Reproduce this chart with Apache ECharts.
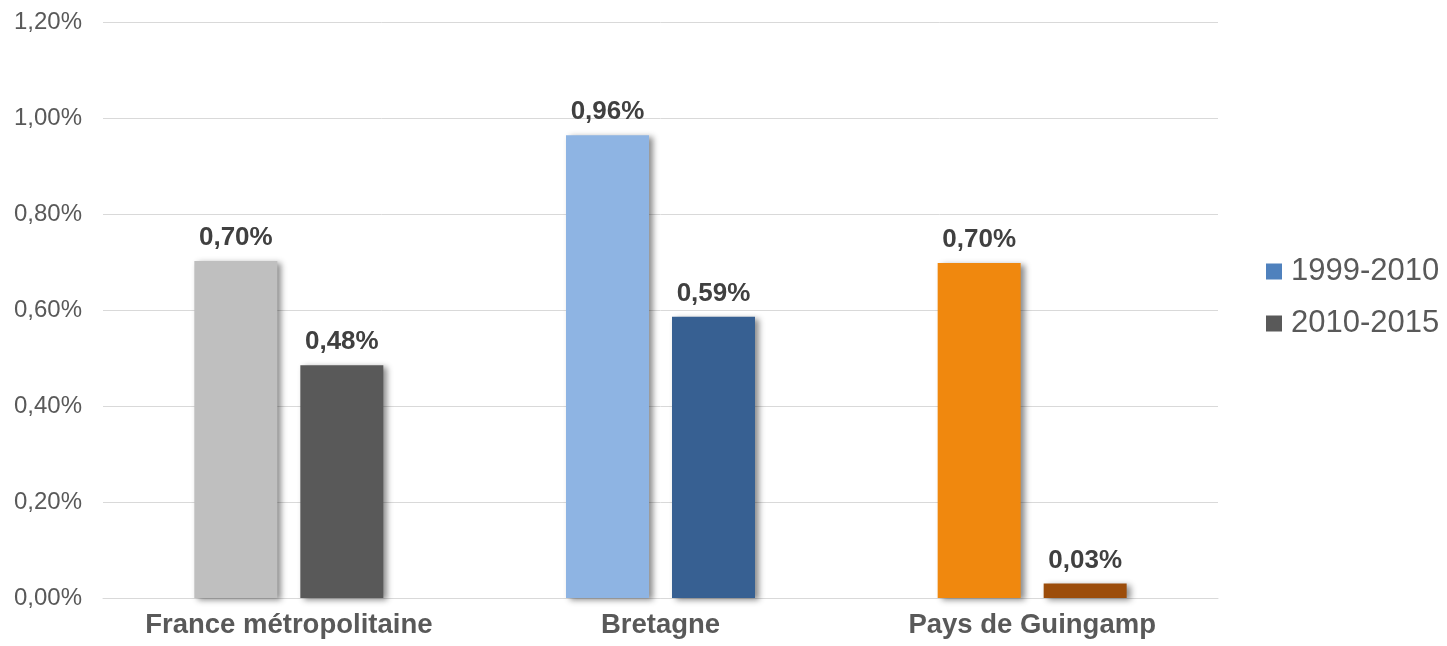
<!DOCTYPE html>
<html>
<head>
<meta charset="utf-8">
<script src="https://cdn.jsdelivr.net/npm/echarts@6/dist/echarts.min.js"></script>
<style>html,body{margin:0;padding:0;background:#fff}#c{width:1447px;height:646px}</style>
</head>
<body>
<div id="c"></div>
<script>
const categories = ['France métropolitaine', 'Bretagne', 'Pays de Guingamp'];
const seriesNames = ['1999-2010', '2010-2015'];
const values1999 = [0.702, 0.964, 0.698];
const values2010 = [0.485, 0.586, 0.030];
const colors1999 = ['#BFBFBF', '#8EB4E3', '#F0880E'];
const colors2010 = ['#595959', '#376092', '#9C4D0B'];
const legendColors = ['#4F81BD', '#595959'];
const yTicks = [0, 0.2, 0.4, 0.6, 0.8, 1.0, 1.2];

const fmt = v => v.toFixed(2).replace('.', ',') + '%';
const shadow = {shadowColor: 'rgba(0,0,0,0.45)', shadowBlur: 6, shadowOffsetX: 4, shadowOffsetY: 2};
const FF = 'Liberation Sans, Arial';

function mk(name, vals, cols, legendCol) {
  return {
    name, type: 'bar', barWidth: 83, barGap: '27.7%',
    itemStyle: Object.assign({color: legendCol}, shadow),
    label: {show: true, position: 'top', distance: 10, formatter: p => fmt(p.value),
      fontFamily: FF, fontWeight: 'bold', fontSize: 26, color: '#404040'},
    data: vals.map((v, i) => ({value: v, itemStyle: {color: cols[i]}}))
  };
}

const chart = echarts.init(document.getElementById('c'), null, {renderer: 'canvas'});
chart.setOption({
  animation: false,
  textStyle: {fontFamily: FF},
  grid: {left: 103, right: 229, top: 22, bottom: 48},
  legend: {
    orient: 'vertical', left: 1266, top: 256, itemWidth: 16, itemHeight: 16, itemGap: 21,
    icon: 'rect', padding: 0,
    textStyle: {fontSize: 31, color: '#595959', fontFamily: FF, padding: [0, 0, 0, 4]},
    data: seriesNames.map((n, i) => ({name: n, itemStyle: {color: legendColors[i]}}))
  },
  xAxis: {
    type: 'category', data: categories,
    axisTick: {show: false},
    axisLine: {lineStyle: {color: '#D9D9D9', width: 1}},
    axisLabel: {interval: 0, hideOverlap: false, fontSize: 27.5, fontWeight: 'bold', color: '#595959', margin: 13, fontFamily: FF}
  },
  yAxis: {
    type: 'value', min: 0, max: 1.2, interval: 0.2,
    axisLine: {show: false}, axisTick: {show: false},
    splitLine: {lineStyle: {color: '#D9D9D9', width: 1}},
    axisLabel: {fontSize: 24, color: '#595959', margin: 21, formatter: v => fmt(v), fontFamily: FF}
  },
  series: [mk(seriesNames[0], values1999, colors1999, legendColors[0]), mk(seriesNames[1], values2010, colors2010, legendColors[1])]
});
</script>
</body>
</html>
